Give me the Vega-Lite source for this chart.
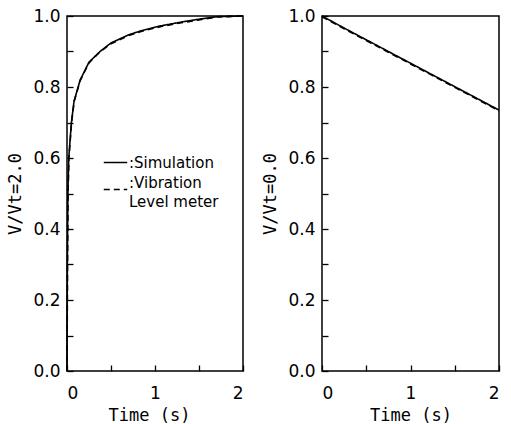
{
  "$schema": "https://vega.github.io/schema/vega-lite/v6.json",
  "padding": {"left": 6, "top": 6, "right": 8, "bottom": 0},
  "spacing": 14,
  "config": {
    "font": "DejaVu Sans",
    "view": {"stroke": "black", "strokeWidth": 1.5},
    "axis": {
      "domain": false, "grid": false, "tickColor": "black", "tickWidth": 1.3,
      "tickSize": -6, "labelFontSize": 17, "labelColor": "black", "titleFontSize": 17,
      "titleFont": "DejaVu Sans Mono", "labelOverlap": false,
      "titleFontWeight": "normal", "titleColor": "black", "labelPadding": 13
    }
  },
  "datasets": {
    "left": [
      {"t": 0.0, "v": 0.0, "s": "Simulation"},
      {"t": 0.004, "v": 0.3, "s": "Simulation"},
      {"t": 0.01, "v": 0.5, "s": "Simulation"},
      {"t": 0.02, "v": 0.6, "s": "Simulation"},
      {"t": 0.035, "v": 0.65, "s": "Simulation"},
      {"t": 0.05, "v": 0.70, "s": "Simulation"},
      {"t": 0.08, "v": 0.76, "s": "Simulation"},
      {"t": 0.15, "v": 0.82, "s": "Simulation"},
      {"t": 0.25, "v": 0.87, "s": "Simulation"},
      {"t": 0.375, "v": 0.90, "s": "Simulation"},
      {"t": 0.5, "v": 0.924, "s": "Simulation"},
      {"t": 0.7, "v": 0.947, "s": "Simulation"},
      {"t": 0.85, "v": 0.959, "s": "Simulation"},
      {"t": 1.06, "v": 0.972, "s": "Simulation"},
      {"t": 1.3, "v": 0.983, "s": "Simulation"},
      {"t": 1.5, "v": 0.991, "s": "Simulation"},
      {"t": 1.7, "v": 0.998, "s": "Simulation"},
      {"t": 2.0, "v": 1.0, "s": "Simulation"},
      {"t": 0.0, "v": 0.0, "s": "Vibration Level meter"},
      {"t": 0.006, "v": 0.3, "s": "Vibration Level meter"},
      {"t": 0.012, "v": 0.5, "s": "Vibration Level meter"},
      {"t": 0.022, "v": 0.6, "s": "Vibration Level meter"},
      {"t": 0.037, "v": 0.65, "s": "Vibration Level meter"},
      {"t": 0.052, "v": 0.70, "s": "Vibration Level meter"},
      {"t": 0.082, "v": 0.76, "s": "Vibration Level meter"},
      {"t": 0.15, "v": 0.818, "s": "Vibration Level meter"},
      {"t": 0.25, "v": 0.868, "s": "Vibration Level meter"},
      {"t": 0.375, "v": 0.899, "s": "Vibration Level meter"},
      {"t": 0.5, "v": 0.922, "s": "Vibration Level meter"},
      {"t": 0.7, "v": 0.945, "s": "Vibration Level meter"},
      {"t": 0.85, "v": 0.957, "s": "Vibration Level meter"},
      {"t": 1.06, "v": 0.970, "s": "Vibration Level meter"},
      {"t": 1.3, "v": 0.981, "s": "Vibration Level meter"},
      {"t": 1.5, "v": 0.989, "s": "Vibration Level meter"},
      {"t": 1.7, "v": 0.997, "s": "Vibration Level meter"},
      {"t": 2.0, "v": 1.0, "s": "Vibration Level meter"}
    ],
    "right": [
      {"t": 0.0, "v": 1.0, "s": "Simulation"},
      {"t": 0.25, "v": 0.966, "s": "Simulation"},
      {"t": 0.5, "v": 0.933, "s": "Simulation"},
      {"t": 0.75, "v": 0.900, "s": "Simulation"},
      {"t": 1.0, "v": 0.867, "s": "Simulation"},
      {"t": 1.25, "v": 0.834, "s": "Simulation"},
      {"t": 1.5, "v": 0.801, "s": "Simulation"},
      {"t": 1.75, "v": 0.768, "s": "Simulation"},
      {"t": 2.0, "v": 0.735, "s": "Simulation"},
      {"t": 0.0, "v": 0.998, "s": "Vibration Level meter"},
      {"t": 0.25, "v": 0.964, "s": "Vibration Level meter"},
      {"t": 0.5, "v": 0.931, "s": "Vibration Level meter"},
      {"t": 0.75, "v": 0.898, "s": "Vibration Level meter"},
      {"t": 1.0, "v": 0.865, "s": "Vibration Level meter"},
      {"t": 1.25, "v": 0.832, "s": "Vibration Level meter"},
      {"t": 1.5, "v": 0.799, "s": "Vibration Level meter"},
      {"t": 1.75, "v": 0.766, "s": "Vibration Level meter"},
      {"t": 2.0, "v": 0.733, "s": "Vibration Level meter"}
    ]
  },
  "hconcat": [
    {
      "width": 176, "height": 355,
      "data": {"name": "left"},
      "mark": {"type": "line", "color": "black", "strokeWidth": 1.6},
      "encoding": {
        "x": {"field": "t", "type": "quantitative", "scale": {"domain": [0, 2], "nice": false},
          "axis": {"title": "Time (s)", "values": [0, 0.5, 1, 1.5, 2], "labelOverlap": false, "labelExpr": "datum.value == 0 || datum.value == 1 || datum.value == 2 ? format(datum.value, 'd') : ''", "titlePadding": 6, "labelPadding": 20, "titleX": 82}},
        "y": {"field": "v", "type": "quantitative", "scale": {"domain": [0, 1], "nice": false},
          "axis": {"title": "V/Vt=2.0", "values": [0, 0.1, 0.2, 0.3, 0.4, 0.5, 0.6, 0.7, 0.8, 0.9, 1.0], "labelOverlap": false, "format": ".1f", "labelExpr": "round(datum.value*10) % 2 == 0 ? datum.label : ''", "titlePadding": 8}},
        "strokeDash": {"field": "s", "type": "nominal",
          "scale": {"domain": ["Simulation", "Vibration Level meter"], "range": [[1, 0], [6, 4]]},
          "legend": {"title": null, "orient": "none", "legendX": 36, "legendY": 134,
            "symbolType": "stroke", "symbolSize": 550, "symbolStrokeWidth": 1.5, "symbolStrokeColor": "black",
            "labelFontSize": 15, "labelColor": "black", "rowPadding": 4, "labelOffset": 1,
            "labelExpr": "datum.label == 'Simulation' ? ':Simulation' : [':Vibration', ' Level meter']",
            "encode": {"labels": {"update": {"lineHeight": {"value": 19}, "dy": {"signal": "datum.value == 'Simulation' ? 0 : -7"}}}}}}
      }
    },
    {
      "width": 177, "height": 355,
      "data": {"name": "right"},
      "mark": {"type": "line", "color": "black", "strokeWidth": 1.6},
      "encoding": {
        "x": {"field": "t", "type": "quantitative", "scale": {"domain": [0, 2], "nice": false},
          "axis": {"title": "Time  (s)", "values": [0, 0.5, 1, 1.5, 2], "labelOverlap": false, "labelExpr": "datum.value == 0 || datum.value == 1 || datum.value == 2 ? format(datum.value, 'd') : ''", "titlePadding": 6, "labelPadding": 20}},
        "y": {"field": "v", "type": "quantitative", "scale": {"domain": [0, 1], "nice": false},
          "axis": {"title": "V/Vt=0.0", "values": [0, 0.1, 0.2, 0.3, 0.4, 0.5, 0.6, 0.7, 0.8, 0.9, 1.0], "labelOverlap": false, "format": ".1f", "labelExpr": "round(datum.value*10) % 2 == 0 ? datum.label : ''", "titlePadding": 8}},
        "strokeDash": {"field": "s", "type": "nominal",
          "scale": {"domain": ["Simulation", "Vibration Level meter"], "range": [[1, 0], [6, 4]]},
          "legend": null}
      }
    }
  ]
}
